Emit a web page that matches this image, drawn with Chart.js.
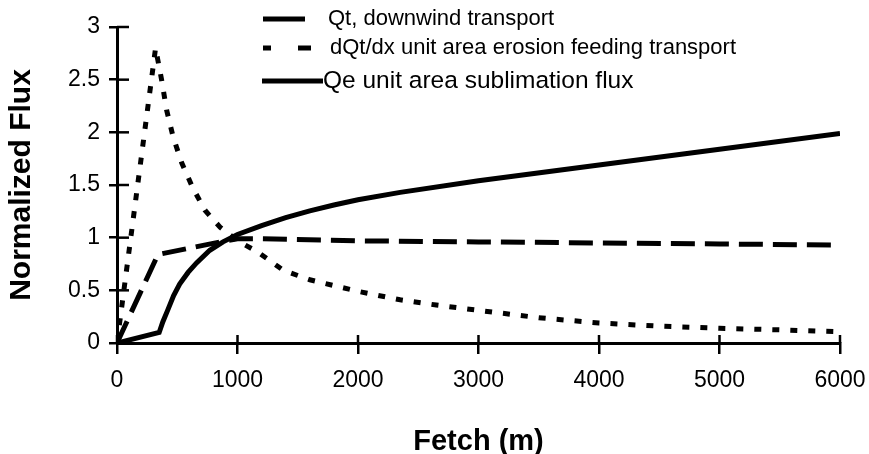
<!DOCTYPE html>
<html><head><meta charset="utf-8">
<script src="https://cdn.jsdelivr.net/npm/chart.js@4/dist/chart.umd.min.js"></script>
<style>html,body{margin:0;padding:0;background:#fff}#wrap{width:869px;height:454px;position:relative}</style>
</head><body><div id="wrap"><canvas id="c" width="869" height="454"></canvas></div>
<script>
// ---- data ----
const seriesLabels = ['Qt, downwind transport', 'dQt/dx unit area erosion feeding transport', 'Qe unit area sublimation flux'];
const qtFetch  = [0, 340, 600, 900, 1000, 1200, 2000, 3000, 4000, 5000, 6000];
const qtValues = [0, 0.84, 0.90, 0.97, 0.99, 0.99, 0.97, 0.96, 0.95, 0.94, 0.93];
const dqFetch  = [0, 320, 370, 412, 465, 537, 630, 730, 855, 1000, 1160, 1380, 1600, 2000, 2350, 2650, 3000, 3500, 4000, 4500, 5000, 5500, 6000];
const dqValues = [0, 2.8, 2.5, 2.21, 1.96, 1.71, 1.47, 1.26, 1.1, 0.97, 0.87, 0.69, 0.6, 0.49, 0.41, 0.36, 0.31, 0.24, 0.19, 0.16, 0.14, 0.125, 0.107];
const qeFetch  = [0, 350, 380, 420, 470, 520, 590, 660, 770, 880, 1000, 1200, 1400, 1600, 1800, 2000, 2350, 3000, 4000, 5000, 6000];
const qeValues = [0, 0.1, 0.2, 0.31, 0.45, 0.56, 0.67, 0.76, 0.88, 0.96, 1.03, 1.115, 1.19, 1.255, 1.31, 1.36, 1.43, 1.54, 1.69, 1.84, 1.99];
const xTicks = [0, 1000, 2000, 3000, 4000, 5000, 6000];
const yTicks = ['0', '0.5', '1', '1.5', '2', '2.5', '3'];
const xTitle = 'Fetch (m)';
const yTitle = 'Normalized Flux';

const pts = (xs, ys) => xs.map((x, i) => ({x, y: ys[i]}));
const FONT = "'Liberation Sans', Arial, sans-serif";

const innerTicks = {
  id: 'innerTicks',
  afterDraw(chart) {
    const {ctx, chartArea: a, scales: {x, y}} = chart;
    ctx.save();
    ctx.strokeStyle = '#000'; ctx.lineWidth = 2.5;
    x.ticks.forEach(t => { const px = x.getPixelForValue(t.value); ctx.beginPath(); ctx.moveTo(px, a.bottom); ctx.lineTo(px, a.bottom - 8); ctx.stroke(); });
    y.ticks.forEach(t => { const py = y.getPixelForValue(t.value); ctx.beginPath(); ctx.moveTo(a.left, py); ctx.lineTo(a.left + 12, py); ctx.stroke(); });
    ctx.restore();
  }
};

const legendPlugin = {
  id: 'manualLegend',
  afterDraw(chart, args, opts) {
    const ctx = chart.ctx;
    ctx.save();
    ctx.fillStyle = '#000'; ctx.strokeStyle = '#000';
    ctx.textBaseline = 'middle';
    chart.data.datasets.forEach((ds, i) => {
      const r = opts.rows[i];
      ctx.lineWidth = 5; ctx.setLineDash(r.dash); ctx.lineCap = 'butt';
      ctx.beginPath(); ctx.moveTo(r.x0, r.y); ctx.lineTo(r.x1, r.y); ctx.stroke();
      ctx.setLineDash([]);
      ctx.font = r.size + 'px ' + FONT;
      ctx.fillText(ds.label, r.tx, r.y);
    });
    ctx.restore();
  }
};

new Chart(document.getElementById('c'), {
  type: 'line',
  data: {
    datasets: [
      {label: seriesLabels[0], data: pts(qtFetch, qtValues), borderColor: '#000', borderWidth: 5, borderDash: [24, 10], pointRadius: 0, tension: 0},
      {label: seriesLabels[1], data: pts(dqFetch, dqValues), borderColor: '#000', borderWidth: 5, borderDash: [7, 11], pointRadius: 0, tension: 0},
      {label: seriesLabels[2], data: pts(qeFetch, qeValues), borderColor: '#000', borderWidth: 5, pointRadius: 0, tension: 0}
    ]
  },
  options: {
    responsive: false, animation: false,
    layout: {padding: {left: 0, right: 29, top: 27, bottom: 0}},
    plugins: {
      legend: {display: false}, tooltip: {enabled: false},
      manualLegend: {rows: [
        {x0: 263, x1: 305, y: 19, tx: 328, size: 22, dash: []},
        {x0: 263, x1: 311, y: 48, tx: 330, size: 22, dash: [8, 27, 13]},
        {x0: 262, x1: 323, y: 81, tx: 323, size: 24.5, dash: []}
      ]}
    },
    scales: {
      x: {
        type: 'linear', min: 0, max: 6000,
        afterBuildTicks: s => { s.ticks = xTicks.map(v => ({value: v})); },
        afterFit: s => { s.height = 111; s.paddingLeft = 0; s.paddingRight = 0; },
        ticks: {color: '#000', font: {family: FONT, size: 23}, padding: 13, maxRotation: 0, callback: v => String(v)},
        grid: {display: true, drawOnChartArea: false, drawTicks: true, tickLength: 11, color: '#000', lineWidth: 2.5},
        border: {display: true, color: '#000', width: 3},
        title: {display: true, text: xTitle, color: '#000', font: {family: FONT, size: 29, weight: 'bold', lineHeight: 1}, padding: {top: 0, bottom: -2}}
      },
      y: {
        type: 'linear', min: 0, max: 3,
        afterBuildTicks: s => { s.ticks = yTicks.map(v => ({value: parseFloat(v)})); },
        afterFit: s => { s.width = 117; s.paddingTop = 0; s.paddingBottom = 0; },
        ticks: {color: '#000', font: {family: FONT, size: 23}, padding: 9, callback: (v, i) => yTicks[i]},
        grid: {display: true, drawOnChartArea: false, drawTicks: true, tickLength: 8, color: '#000', lineWidth: 2.5},
        border: {display: true, color: '#000', width: 3},
        title: {display: true, text: yTitle, color: '#000', font: {family: FONT, size: 30, weight: 'bold', lineHeight: 1.2}, padding: {top: 4, bottom: 0}}
      }
    }
  },
  plugins: [innerTicks, legendPlugin]
});
</script></body></html>
